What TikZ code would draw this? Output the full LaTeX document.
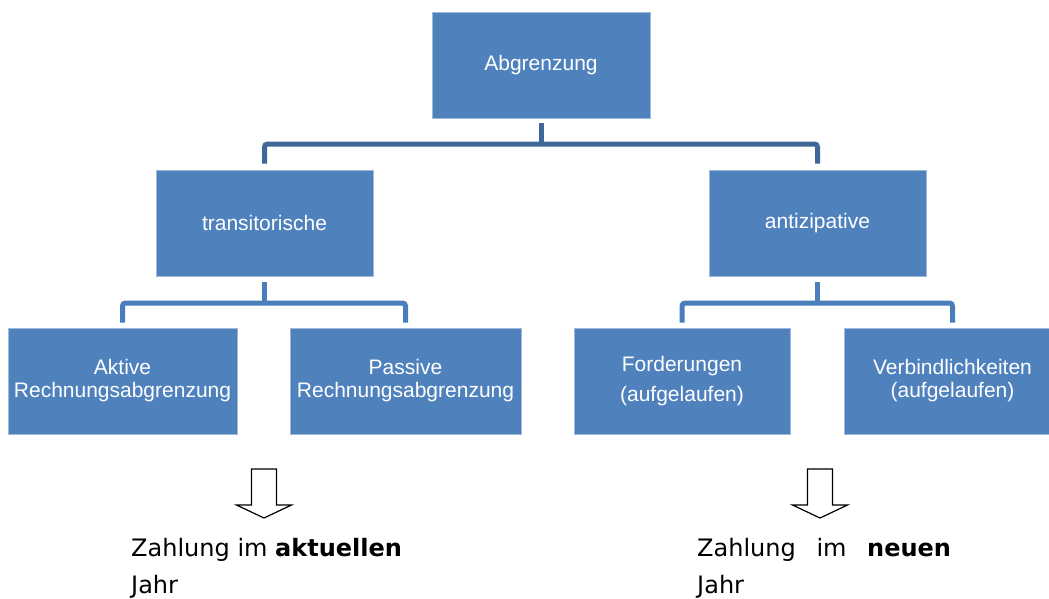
\documentclass[tikz,border=0pt]{standalone}
\usepackage{fontspec}
\usepackage{tikz}
\newfontfamily\boxfont{Liberation Sans}
\newfontfamily\notefont{DejaVu Sans}
\definecolor{mbox}{RGB}{79, 129, 189}
\definecolor{mline}{RGB}{63, 103, 151}
\definecolor{mlinetwo}{RGB}{74, 126, 187}
\tikzset{block/.style = {fill=mbox, draw=mbox!55!white, line width=0.6, text=white,
                         align=center, inner sep=0,
                         font=\boxfont\fontsize{21}{23}\selectfont,
                         minimum height=106}}
\tikzset{topline/.style = {draw=mline, line width=5, rounded corners=3}}
\tikzset{subline/.style = {draw=mlinetwo, line width=5, rounded corners=3}}
\tikzset{note/.style = {anchor=north west, inner sep=0, align=left,
                        font=\notefont\fontsize{24}{37}\selectfont}}
\tikzset{downarrow/.pic = {
  \draw [line width=1.2, line join=miter] (-12.5, 0) -- (12.5, 0) -- (12.5, 36) -- (27.5, 36)
        -- (0, 49) -- (-27.5, 36) -- (-12.5, 36) -- cycle;}}

\begin{document}
\begin{tikzpicture}[x=1pt, y=-1pt]
    \useasboundingbox (0, 0) rectangle (1049, 598);

    \node [block, minimum width=218] (abg) at (541, 65) {Abgrenzung};

    \node [block, minimum width=217] (trans) at (264.5, 223) {transitorische};
    \node [block, minimum width=217] (anti) at (817.5, 223) {antizipative};

    \node [block, minimum width=229] (aktiv) at (122.5, 381) {Aktive\\Rechnungsabgrenzung};
    \node [block, minimum width=231] (passiv) at (405.5, 381) {Passive\\Rechnungsabgrenzung};
    \node [block, minimum width=216] (ford) at (682, 381) {Forderungen\\[7pt](aufgelaufen)};
    \node [block, minimum width=217] (verb) at (952.5, 381) {Verbindlichkeiten\\(aufgelaufen)};

    \coordinate (topbus) at (541, 144);
    \coordinate (leftbus) at (264.5, 303);
    \coordinate (rightbus) at (817.5, 303);

    \draw [topline] ([yshift=-5]abg.south) -- (topbus);
    \draw [topline] ([yshift=6]trans.north) |- (topbus) -| ([yshift=6]anti.north);

    \draw [subline] ([yshift=-6]trans.south) -- (leftbus);
    \draw [subline] ([yshift=5]aktiv.north) |- (leftbus) -| ([yshift=5]passiv.north);
    \draw [subline] ([yshift=-6]anti.south) -- (rightbus);
    \draw [subline] ([yshift=5]ford.north) |- (rightbus) -| ([yshift=5]verb.north);

    \pic at (264, 469) {downarrow};
    \pic at (820, 469) {downarrow};

    \node [note] (aktuell) at (131, 538) {Zahlung im \textbf{aktuellen}\\Jahr};
    \node [note] (neu) at (697, 538) {Zahlung\hspace{13pt} im\hspace{13pt} \textbf{neuen}\\Jahr};
\end{tikzpicture}
\end{document}
